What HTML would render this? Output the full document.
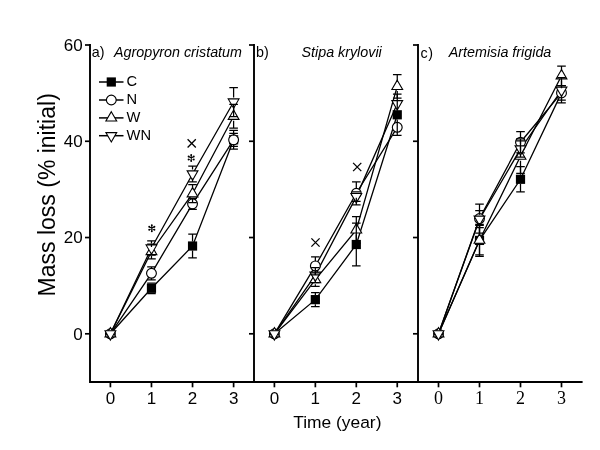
<!DOCTYPE html><html><head><meta charset="utf-8"><style>html,body{margin:0;padding:0;background:#fff;}svg{display:block;filter:grayscale(1);}text{font-family:"Liberation Sans",sans-serif;}</style></head><body>
<svg width="600" height="450" viewBox="0 0 600 450">
<rect width="600" height="450" fill="#fff"/>
<g stroke="#000" stroke-width="1.9" fill="none" stroke-linecap="butt">
<path d="M90 44.1V382.0H582.6"/>
<path d="M254 44.1V382.0"/>
<path d="M418 44.1V382.0"/>
</g>
<g stroke="#000" stroke-width="1.7" fill="none">
<path d="M85.0 45.00H90.0"/>
<path d="M85.0 141.27H90.0"/>
<path d="M85.0 237.53H90.0"/>
<path d="M85.0 333.80H90.0"/>
<path d="M110.40 382.0V387.3"/>
<path d="M151.47 382.0V387.3"/>
<path d="M192.54 382.0V387.3"/>
<path d="M233.61 382.0V387.3"/>
<path d="M249.0 45.00H254.0"/>
<path d="M249.0 141.27H254.0"/>
<path d="M249.0 237.53H254.0"/>
<path d="M249.0 333.80H254.0"/>
<path d="M274.40 382.0V387.3"/>
<path d="M315.35 382.0V387.3"/>
<path d="M356.30 382.0V387.3"/>
<path d="M397.25 382.0V387.3"/>
<path d="M413.0 45.00H418.0"/>
<path d="M413.0 141.27H418.0"/>
<path d="M413.0 237.53H418.0"/>
<path d="M413.0 333.80H418.0"/>
<path d="M438.50 382.0V387.3"/>
<path d="M479.50 382.0V387.3"/>
<path d="M520.50 382.0V387.3"/>
<path d="M561.50 382.0V387.3"/>
</g>
<text x="82.6" y="50.70" font-size="17" text-anchor="end">60</text>
<text x="82.6" y="146.97" font-size="17" text-anchor="end">40</text>
<text x="82.6" y="243.23" font-size="17" text-anchor="end">20</text>
<text x="82.6" y="339.50" font-size="17" text-anchor="end">0</text>
<text x="110.40" y="404" font-size="17" text-anchor="middle">0</text>
<text x="151.47" y="404" font-size="17" text-anchor="middle">1</text>
<text x="192.54" y="404" font-size="17" text-anchor="middle">2</text>
<text x="233.61" y="404" font-size="17" text-anchor="middle">3</text>
<text x="274.40" y="404" font-size="17" text-anchor="middle">0</text>
<text x="315.35" y="404" font-size="17" text-anchor="middle">1</text>
<text x="356.30" y="404" font-size="17" text-anchor="middle">2</text>
<text x="397.25" y="404" font-size="17" text-anchor="middle">3</text>
<text x="438.50" y="404" font-size="18" text-anchor="middle" style="font-family:'Liberation Serif',serif">0</text>
<text x="479.50" y="404" font-size="18" text-anchor="middle" style="font-family:'Liberation Serif',serif">1</text>
<text x="520.50" y="404" font-size="18" text-anchor="middle" style="font-family:'Liberation Serif',serif">2</text>
<text x="561.50" y="404" font-size="18" text-anchor="middle" style="font-family:'Liberation Serif',serif">3</text>
<text x="293.2" y="428" font-size="17.4">Time (year)</text>
<text transform="translate(54.5 194.8) rotate(-90)" font-size="23" text-anchor="middle">Mass loss (% initial)</text>
<text x="91.7" y="57" font-size="14.3">a)</text>
<text x="114" y="57" font-size="14.3" font-style="italic">Agropyron cristatum</text>
<text x="256" y="57" font-size="14.3">b)</text>
<text x="301.5" y="57" font-size="14.3" font-style="italic">Stipa krylovii</text>
<text x="420.4" y="57.5" font-size="14.3" letter-spacing="0.6">c)</text>
<text x="448.8" y="57" font-size="14.3" font-style="italic">Artemisia frigida</text>
<path d="M99 82.0H123.5" stroke="#000" stroke-width="1.5"/>
<rect x="106.70" y="77.40" width="9.2" height="9.2" fill="#000"/>
<text x="126.6" y="86.20" font-size="14.7">C</text>
<path d="M99 100.0H123.5" stroke="#000" stroke-width="1.5"/>
<circle cx="111.30" cy="100.00" r="4.9" fill="#fff" stroke="#000" stroke-width="1.15"/>
<text x="126.6" y="104.20" font-size="14.7">N</text>
<path d="M99 117.9H123.5" stroke="#000" stroke-width="1.5"/>
<path d="M111.30 111.67L116.70 121.02L105.90 121.02Z" fill="#fff" stroke="#000" stroke-width="1.1" stroke-linejoin="miter"/>
<text x="126.6" y="122.10" font-size="14.7">W</text>
<path d="M99 135.7H123.5" stroke="#000" stroke-width="1.5"/>
<path d="M111.30 141.93L116.70 132.58L105.90 132.58Z" fill="#fff" stroke="#000" stroke-width="1.1" stroke-linejoin="miter"/>
<text x="126.6" y="139.90" font-size="14.7">WN</text>
<polyline points="110.40,333.80 151.47,288.31 192.54,246.01 233.61,139.82" fill="none" stroke="#000" stroke-width="1.3"/>
<polyline points="110.40,333.80 151.47,273.30 192.54,203.84 233.61,139.82" fill="none" stroke="#000" stroke-width="1.3"/>
<polyline points="110.40,333.80 151.47,251.49 192.54,193.73 233.61,116.24" fill="none" stroke="#000" stroke-width="1.3"/>
<polyline points="110.40,333.80 151.47,248.03 192.54,174.00 233.61,102.04" fill="none" stroke="#000" stroke-width="1.3"/>
<rect x="146.87" y="283.71" width="9.2" height="9.2" fill="#000"/>
<rect x="187.94" y="241.41" width="9.2" height="9.2" fill="#000"/>
<rect x="229.01" y="135.22" width="9.2" height="9.2" fill="#000"/>
<circle cx="110.40" cy="333.80" r="4.9" fill="#fff" stroke="#000" stroke-width="1.15"/>
<circle cx="151.47" cy="273.30" r="4.9" fill="#fff" stroke="#000" stroke-width="1.15"/>
<circle cx="192.54" cy="203.84" r="4.9" fill="#fff" stroke="#000" stroke-width="1.15"/>
<circle cx="233.61" cy="139.82" r="4.9" fill="#fff" stroke="#000" stroke-width="1.15"/>
<path d="M110.40 327.57L115.80 336.92L105.00 336.92Z" fill="#fff" stroke="#000" stroke-width="1.1" stroke-linejoin="miter"/>
<path d="M151.47 245.26L156.87 254.61L146.07 254.61Z" fill="#fff" stroke="#000" stroke-width="1.1" stroke-linejoin="miter"/>
<path d="M192.54 187.50L197.94 196.85L187.14 196.85Z" fill="#fff" stroke="#000" stroke-width="1.1" stroke-linejoin="miter"/>
<path d="M233.61 110.01L239.01 119.36L228.21 119.36Z" fill="#fff" stroke="#000" stroke-width="1.1" stroke-linejoin="miter"/>
<path d="M110.40 340.03L115.80 330.68L105.00 330.68Z" fill="#fff" stroke="#000" stroke-width="1.1" stroke-linejoin="miter"/>
<path d="M151.47 254.26L156.87 244.91L146.07 244.91Z" fill="#fff" stroke="#000" stroke-width="1.1" stroke-linejoin="miter"/>
<path d="M192.54 180.23L197.94 170.88L187.14 170.88Z" fill="#fff" stroke="#000" stroke-width="1.1" stroke-linejoin="miter"/>
<path d="M233.61 108.27L239.01 98.92L228.21 98.92Z" fill="#fff" stroke="#000" stroke-width="1.1" stroke-linejoin="miter"/>
<path d="M151.47 283.71V283.01M147.17 283.01H155.77M151.47 292.91V293.61M147.17 293.61H155.77" stroke="#000" stroke-width="1.25" fill="none"/>
<path d="M192.54 241.41V234.21M188.24 234.21H196.84M192.54 250.61V257.81M188.24 257.81H196.84" stroke="#000" stroke-width="1.25" fill="none"/>
<path d="M233.61 135.22V130.42M229.31 130.42H237.91M233.61 144.42V149.22M229.31 149.22H237.91" stroke="#000" stroke-width="1.25" fill="none"/>
<path d="M151.47 268.70V266.80M147.17 266.80H155.77M151.47 277.90V279.80M147.17 279.80H155.77" stroke="#000" stroke-width="1.25" fill="none"/>
<path d="M192.54 199.24V198.34M188.24 198.34H196.84M192.54 208.44V209.34M188.24 209.34H196.84" stroke="#000" stroke-width="1.25" fill="none"/>
<path d="M233.61 135.22V133.32M229.31 133.32H237.91M233.61 144.42V146.32M229.31 146.32H237.91" stroke="#000" stroke-width="1.25" fill="none"/>
<path d="M151.47 246.89V244.09M147.17 244.09H155.77M151.47 256.09V258.89M147.17 258.89H155.77" stroke="#000" stroke-width="1.25" fill="none"/>
<path d="M192.54 189.13V184.73M188.24 184.73H196.84M192.54 198.33V202.73M188.24 202.73H196.84" stroke="#000" stroke-width="1.25" fill="none"/>
<path d="M233.61 111.64V104.44M229.31 104.44H237.91M233.61 120.84V128.04M229.31 128.04H237.91" stroke="#000" stroke-width="1.25" fill="none"/>
<path d="M151.47 243.43V240.93M147.17 240.93H155.77M151.47 252.63V255.13M147.17 255.13H155.77" stroke="#000" stroke-width="1.25" fill="none"/>
<path d="M192.54 169.40V166.20M188.24 166.20H196.84M192.54 178.60V181.80M188.24 181.80H196.84" stroke="#000" stroke-width="1.25" fill="none"/>
<path d="M233.61 97.44V87.54M229.31 87.54H237.91M233.61 106.64V116.54M229.31 116.54H237.91" stroke="#000" stroke-width="1.25" fill="none"/>
<polyline points="274.40,333.80 315.35,299.63 356.30,244.51 397.25,114.79" fill="none" stroke="#000" stroke-width="1.3"/>
<polyline points="274.40,333.80 315.35,265.93 356.30,193.25 397.25,127.31" fill="none" stroke="#000" stroke-width="1.3"/>
<polyline points="274.40,333.80 315.35,279.65 356.30,229.83 397.25,86.40" fill="none" stroke="#000" stroke-width="1.3"/>
<polyline points="274.40,333.80 315.35,275.08 356.30,196.62 397.25,103.72" fill="none" stroke="#000" stroke-width="1.3"/>
<rect x="310.75" y="295.03" width="9.2" height="9.2" fill="#000"/>
<rect x="351.70" y="239.91" width="9.2" height="9.2" fill="#000"/>
<rect x="392.65" y="110.19" width="9.2" height="9.2" fill="#000"/>
<circle cx="274.40" cy="333.80" r="4.9" fill="#fff" stroke="#000" stroke-width="1.15"/>
<circle cx="315.35" cy="265.93" r="4.9" fill="#fff" stroke="#000" stroke-width="1.15"/>
<circle cx="356.30" cy="193.25" r="4.9" fill="#fff" stroke="#000" stroke-width="1.15"/>
<circle cx="397.25" cy="127.31" r="4.9" fill="#fff" stroke="#000" stroke-width="1.15"/>
<path d="M274.40 327.57L279.80 336.92L269.00 336.92Z" fill="#fff" stroke="#000" stroke-width="1.1" stroke-linejoin="miter"/>
<path d="M315.35 273.42L320.75 282.77L309.95 282.77Z" fill="#fff" stroke="#000" stroke-width="1.1" stroke-linejoin="miter"/>
<path d="M356.30 223.60L361.70 232.95L350.90 232.95Z" fill="#fff" stroke="#000" stroke-width="1.1" stroke-linejoin="miter"/>
<path d="M397.25 80.16L402.65 89.51L391.85 89.51Z" fill="#fff" stroke="#000" stroke-width="1.1" stroke-linejoin="miter"/>
<path d="M274.40 340.03L279.80 330.68L269.00 330.68Z" fill="#fff" stroke="#000" stroke-width="1.1" stroke-linejoin="miter"/>
<path d="M315.35 281.31L320.75 271.96L309.95 271.96Z" fill="#fff" stroke="#000" stroke-width="1.1" stroke-linejoin="miter"/>
<path d="M356.30 202.85L361.70 193.50L350.90 193.50Z" fill="#fff" stroke="#000" stroke-width="1.1" stroke-linejoin="miter"/>
<path d="M397.25 109.96L402.65 100.61L391.85 100.61Z" fill="#fff" stroke="#000" stroke-width="1.1" stroke-linejoin="miter"/>
<path d="M315.35 295.03V292.63M311.05 292.63H319.65M315.35 304.23V306.63M311.05 306.63H319.65" stroke="#000" stroke-width="1.25" fill="none"/>
<path d="M356.30 239.91V223.21M352.00 223.21H360.60M356.30 249.11V265.81M352.00 265.81H360.60" stroke="#000" stroke-width="1.25" fill="none"/>
<path d="M397.25 110.19V94.09M392.95 94.09H401.55M397.25 119.39V135.49M392.95 135.49H401.55" stroke="#000" stroke-width="1.25" fill="none"/>
<path d="M315.35 261.33V256.93M311.05 256.93H319.65M315.35 270.53V274.93M311.05 274.93H319.65" stroke="#000" stroke-width="1.25" fill="none"/>
<path d="M356.30 188.65V181.75M352.00 181.75H360.60M356.30 197.85V204.75M352.00 204.75H360.60" stroke="#000" stroke-width="1.25" fill="none"/>
<path d="M315.35 275.05V272.85M311.05 272.85H319.65M315.35 284.25V286.45M311.05 286.45H319.65" stroke="#000" stroke-width="1.25" fill="none"/>
<path d="M356.30 225.23V216.53M352.00 216.53H360.60M356.30 234.43V243.13M352.00 243.13H360.60" stroke="#000" stroke-width="1.25" fill="none"/>
<path d="M397.25 81.80V74.70M392.95 74.70H401.55M397.25 91.00V98.10M392.95 98.10H401.55" stroke="#000" stroke-width="1.25" fill="none"/>
<path d="M315.35 270.48V267.58M311.05 267.58H319.65M315.35 279.68V282.58M311.05 282.58H319.65" stroke="#000" stroke-width="1.25" fill="none"/>
<path d="M356.30 192.02V191.92M352.00 191.92H360.60M356.30 201.22V201.32M352.00 201.32H360.60" stroke="#000" stroke-width="1.25" fill="none"/>
<polyline points="438.50,333.80 479.50,240.42 520.50,179.29 561.50,92.89" fill="none" stroke="#000" stroke-width="1.3"/>
<polyline points="438.50,333.80 479.50,218.52 520.50,142.23 561.50,92.89" fill="none" stroke="#000" stroke-width="1.3"/>
<polyline points="438.50,333.80 479.50,240.18 520.50,156.19 561.50,75.81" fill="none" stroke="#000" stroke-width="1.3"/>
<polyline points="438.50,333.80 479.50,219.24 520.50,148.97 561.50,90.25" fill="none" stroke="#000" stroke-width="1.3"/>
<rect x="474.90" y="235.82" width="9.2" height="9.2" fill="#000"/>
<rect x="515.90" y="174.69" width="9.2" height="9.2" fill="#000"/>
<circle cx="438.50" cy="333.80" r="4.9" fill="#fff" stroke="#000" stroke-width="1.15"/>
<circle cx="479.50" cy="218.52" r="4.9" fill="#fff" stroke="#000" stroke-width="1.15"/>
<circle cx="520.50" cy="142.23" r="4.9" fill="#fff" stroke="#000" stroke-width="1.15"/>
<circle cx="561.50" cy="92.89" r="4.9" fill="#fff" stroke="#000" stroke-width="1.15"/>
<path d="M438.50 327.57L443.90 336.92L433.10 336.92Z" fill="#fff" stroke="#000" stroke-width="1.1" stroke-linejoin="miter"/>
<path d="M479.50 233.95L484.90 243.30L474.10 243.30Z" fill="#fff" stroke="#000" stroke-width="1.1" stroke-linejoin="miter"/>
<path d="M520.50 149.96L525.90 159.31L515.10 159.31Z" fill="#fff" stroke="#000" stroke-width="1.1" stroke-linejoin="miter"/>
<path d="M561.50 69.57L566.90 78.92L556.10 78.92Z" fill="#fff" stroke="#000" stroke-width="1.1" stroke-linejoin="miter"/>
<path d="M438.50 340.03L443.90 330.68L433.10 330.68Z" fill="#fff" stroke="#000" stroke-width="1.1" stroke-linejoin="miter"/>
<path d="M479.50 225.48L484.90 216.13L474.10 216.13Z" fill="#fff" stroke="#000" stroke-width="1.1" stroke-linejoin="miter"/>
<path d="M520.50 155.20L525.90 145.85L515.10 145.85Z" fill="#fff" stroke="#000" stroke-width="1.1" stroke-linejoin="miter"/>
<path d="M561.50 96.48L566.90 87.13L556.10 87.13Z" fill="#fff" stroke="#000" stroke-width="1.1" stroke-linejoin="miter"/>
<path d="M479.50 235.82V224.42M475.20 224.42H483.80M479.50 245.02V256.42M475.20 256.42H483.80" stroke="#000" stroke-width="1.25" fill="none"/>
<path d="M520.50 174.69V166.59M516.20 166.59H524.80M520.50 183.89V191.99M516.20 191.99H524.80" stroke="#000" stroke-width="1.25" fill="none"/>
<path d="M479.50 213.92V204.02M475.20 204.02H483.80M479.50 223.12V233.02M475.20 233.02H483.80" stroke="#000" stroke-width="1.25" fill="none"/>
<path d="M520.50 137.63V131.53M516.20 131.53H524.80M520.50 146.83V152.93M516.20 152.93H524.80" stroke="#000" stroke-width="1.25" fill="none"/>
<path d="M561.50 88.29V85.59M557.20 85.59H565.80M561.50 97.49V100.19M557.20 100.19H565.80" stroke="#000" stroke-width="1.25" fill="none"/>
<path d="M479.50 235.58V225.43M475.20 225.43H483.80M479.50 244.78V254.93M475.20 254.93H483.80" stroke="#000" stroke-width="1.25" fill="none"/>
<path d="M520.50 151.59V138.99M516.20 138.99H524.80M520.50 160.79V173.39M516.20 173.39H524.80" stroke="#000" stroke-width="1.25" fill="none"/>
<path d="M561.50 71.21V66.01M557.20 66.01H565.80M561.50 80.41V85.61M557.20 85.61H565.80" stroke="#000" stroke-width="1.25" fill="none"/>
<path d="M479.50 214.64V210.74M475.20 210.74H483.80M479.50 223.84V227.74M475.20 227.74H483.80" stroke="#000" stroke-width="1.25" fill="none"/>
<path d="M520.50 144.37V140.87M516.20 140.87H524.80M520.50 153.57V157.07M516.20 157.07H524.80" stroke="#000" stroke-width="1.25" fill="none"/>
<path d="M561.50 85.65V77.65M557.20 77.65H565.80M561.50 94.85V102.85M557.20 102.85H565.80" stroke="#000" stroke-width="1.25" fill="none"/>
<path d="M151.80 225.30L151.80 231.30M154.40 226.80L149.20 229.80M154.40 229.80L149.20 226.80" stroke="#000" stroke-width="1.1" fill="none"/><circle cx="151.80" cy="225.30" r="0.95"/><circle cx="151.80" cy="231.30" r="0.95"/><circle cx="154.40" cy="226.80" r="0.95"/><circle cx="149.20" cy="229.80" r="0.95"/><circle cx="154.40" cy="229.80" r="0.95"/><circle cx="149.20" cy="226.80" r="0.95"/>
<path d="M191.20 155.00L191.20 161.00M193.80 156.50L188.60 159.50M193.80 159.50L188.60 156.50" stroke="#000" stroke-width="1.1" fill="none"/><circle cx="191.20" cy="155.00" r="0.95"/><circle cx="191.20" cy="161.00" r="0.95"/><circle cx="193.80" cy="156.50" r="0.95"/><circle cx="188.60" cy="159.50" r="0.95"/><circle cx="193.80" cy="159.50" r="0.95"/><circle cx="188.60" cy="156.50" r="0.95"/>
<path d="M187.60 139.30L195.80 147.50M195.80 139.30L187.60 147.50" stroke="#000" stroke-width="1.3" fill="none"/>
<path d="M311.40 238.40L319.60 246.60M319.60 238.40L311.40 246.60" stroke="#000" stroke-width="1.3" fill="none"/>
<path d="M353.10 162.90L361.30 171.10M361.30 162.90L353.10 171.10" stroke="#000" stroke-width="1.3" fill="none"/>
</svg></body></html>
